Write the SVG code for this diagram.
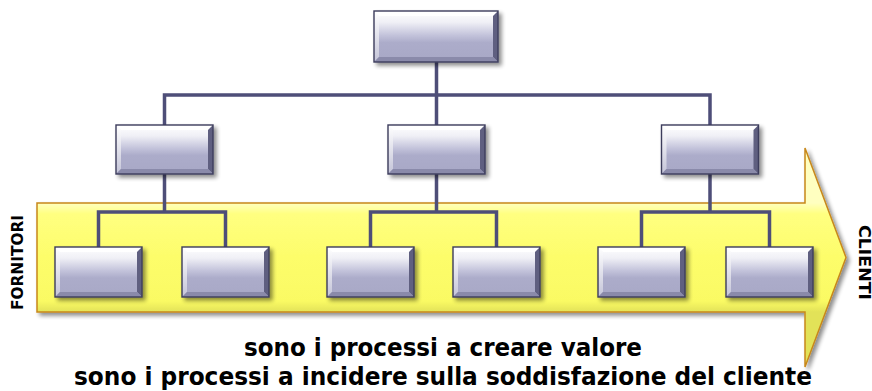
<svg xmlns="http://www.w3.org/2000/svg" xmlns:xlink="http://www.w3.org/1999/xlink" width="872" height="391" viewBox="0 0 872 391">
  <style>
    .wire { fill: none; stroke: #4e4e78; stroke-width: 3.5; stroke-linecap: butt; stroke-linejoin: miter; }
    .label { font-family: "DejaVu Sans", Verdana, sans-serif; font-weight: bold; fill: #000; }
    .side { font-size: 15px; }
    .caption { font-size: 24px; }
    .edge { fill: none; stroke: #3c3c5c; stroke-width: 1.4; }
  </style>
  <defs>
    <filter id="shadow" x="-10%" y="-10%" width="130%" height="140%">
      <feGaussianBlur in="SourceAlpha" stdDeviation="2"/>
      <feOffset dx="3" dy="3" result="b"/>
      <feComponentTransfer><feFuncA type="linear" slope="0.45"/></feComponentTransfer>
      <feMerge><feMergeNode/><feMergeNode in="SourceGraphic"/></feMerge>
    </filter>
    <linearGradient id="face" x1="0" y1="0" x2="0" y2="1">
      <stop offset="0" stop-color="#ffffff"/>
      <stop offset="0.22" stop-color="#f0f0f6"/>
      <stop offset="0.48" stop-color="#c2c2da"/>
      <stop offset="0.62" stop-color="#acacca"/>
      <stop offset="1" stop-color="#a8a8c6"/>
    </linearGradient>
    <linearGradient id="leftBevel" x1="0" y1="0" x2="0" y2="1">
      <stop offset="0" stop-color="#ffffff"/>
      <stop offset="1" stop-color="#c4c4d8"/>
    </linearGradient>
    <linearGradient id="arrowFill" gradientUnits="userSpaceOnUse" x1="0" y1="203" x2="0" y2="312">
      <stop offset="0" stop-color="#ffffc0"/>
      <stop offset="0.1" stop-color="#ffff80"/>
      <stop offset="0.5" stop-color="#fdfd6a"/>
      <stop offset="0.9" stop-color="#fafa64"/>
      <stop offset="1" stop-color="#e2e258"/>
    </linearGradient>

    <!-- bevelled box, 124 x 51 -->
    <g id="boxTop">
      <rect x="0" y="0" width="124" height="51" fill="url(#face)"/>
      <polygon points="0,0 124,0 119,5 5,5" fill="#ffffff"/>
      <polygon points="0,0 5,5 5,46 0,51" fill="url(#leftBevel)"/>
      <polygon points="124,0 124,51 119,46 119,5" fill="#5e5e80"/>
      <polygon points="0,51 5,46 119,46 124,51" fill="#8a8aaa"/>
      <rect x="0" y="0" width="124" height="51" class="edge"/>
    </g>
    <!-- bevelled box, 97 x 49 -->
    <g id="boxMid">
      <rect x="0" y="0" width="97" height="49" fill="url(#face)"/>
      <polygon points="0,0 97,0 92,5 5,5" fill="#ffffff"/>
      <polygon points="0,0 5,5 5,44 0,49" fill="url(#leftBevel)"/>
      <polygon points="97,0 97,49 92,44 92,5" fill="#5e5e80"/>
      <polygon points="0,49 5,44 92,44 97,49" fill="#8a8aaa"/>
      <rect x="0" y="0" width="97" height="49" class="edge"/>
    </g>
    <!-- bevelled box, 87 x 50 -->
    <g id="boxLow">
      <rect x="0" y="0" width="87" height="50" fill="url(#face)"/>
      <polygon points="0,0 87,0 82,5 5,5" fill="#ffffff"/>
      <polygon points="0,0 5,5 5,45 0,50" fill="url(#leftBevel)"/>
      <polygon points="87,0 87,50 82,45 82,5" fill="#5e5e80"/>
      <polygon points="0,50 5,45 82,45 87,50" fill="#8a8aaa"/>
      <rect x="0" y="0" width="87" height="50" class="edge"/>
    </g>
  </defs>

  <rect width="872" height="391" fill="#ffffff"/>

  <!-- flow arrow from suppliers to customers -->
  <g id="flow-arrow" filter="url(#shadow)">
    <polygon points="37,203 805,203 805,148 846,257.5 805,367 805,312 37,312" fill="url(#arrowFill)" stroke="#c8881a" stroke-width="1.5" stroke-linejoin="miter"/>
  </g>

  <!-- connectors -->
  <g id="connectors">
    <path class="wire" d="M436.5,62 V95 M164.5,95 H710 M164.5,93.25 V125 M436.5,95 V125 M710,93.25 V125"/>
    <path class="wire" d="M164.5,174 V212 M98.5,212 H225.5 M98.5,210.25 V247 M225.5,210.25 V247"/>
    <path class="wire" d="M436.5,174 V212 M370.5,212 H496.5 M370.5,210.25 V247 M496.5,210.25 V247"/>
    <path class="wire" d="M710,174 V212 M641.5,212 H769.5 M641.5,210.25 V247 M769.5,210.25 V247"/>
  </g>

  <!-- nodes -->
  <g id="node-root" filter="url(#shadow)"><use href="#boxTop" x="374" y="11"/></g>

  <g id="node-a" filter="url(#shadow)"><use href="#boxMid" x="116" y="125"/></g>
  <g id="node-b" filter="url(#shadow)"><use href="#boxMid" x="388" y="125"/></g>
  <g id="node-c" filter="url(#shadow)"><use href="#boxMid" x="661.5" y="125"/></g>

  <g id="node-a1" filter="url(#shadow)"><use href="#boxLow" x="55" y="247"/></g>
  <g id="node-a2" filter="url(#shadow)"><use href="#boxLow" x="182" y="247"/></g>
  <g id="node-b1" filter="url(#shadow)"><use href="#boxLow" x="327" y="247"/></g>
  <g id="node-b2" filter="url(#shadow)"><use href="#boxLow" x="453" y="247"/></g>
  <g id="node-c1" filter="url(#shadow)"><use href="#boxLow" x="598" y="247"/></g>
  <g id="node-c2" filter="url(#shadow)"><use href="#boxLow" x="726" y="247"/></g>

  <!-- side labels -->
  <text class="label side" transform="translate(23,262.5) rotate(-90)" text-anchor="middle" textLength="95" lengthAdjust="spacingAndGlyphs">FORNITORI</text>
  <text class="label side" transform="translate(859,262.5) rotate(90)" text-anchor="middle" textLength="75" lengthAdjust="spacingAndGlyphs">CLIENTI</text>

  <!-- captions -->
  <text class="label caption" x="443" y="356" text-anchor="middle" textLength="398" lengthAdjust="spacingAndGlyphs">sono i processi a creare valore</text>
  <text class="label caption" x="443" y="385" text-anchor="middle" textLength="738" lengthAdjust="spacingAndGlyphs">sono i processi a incidere sulla soddisfazione del cliente</text>
</svg>
